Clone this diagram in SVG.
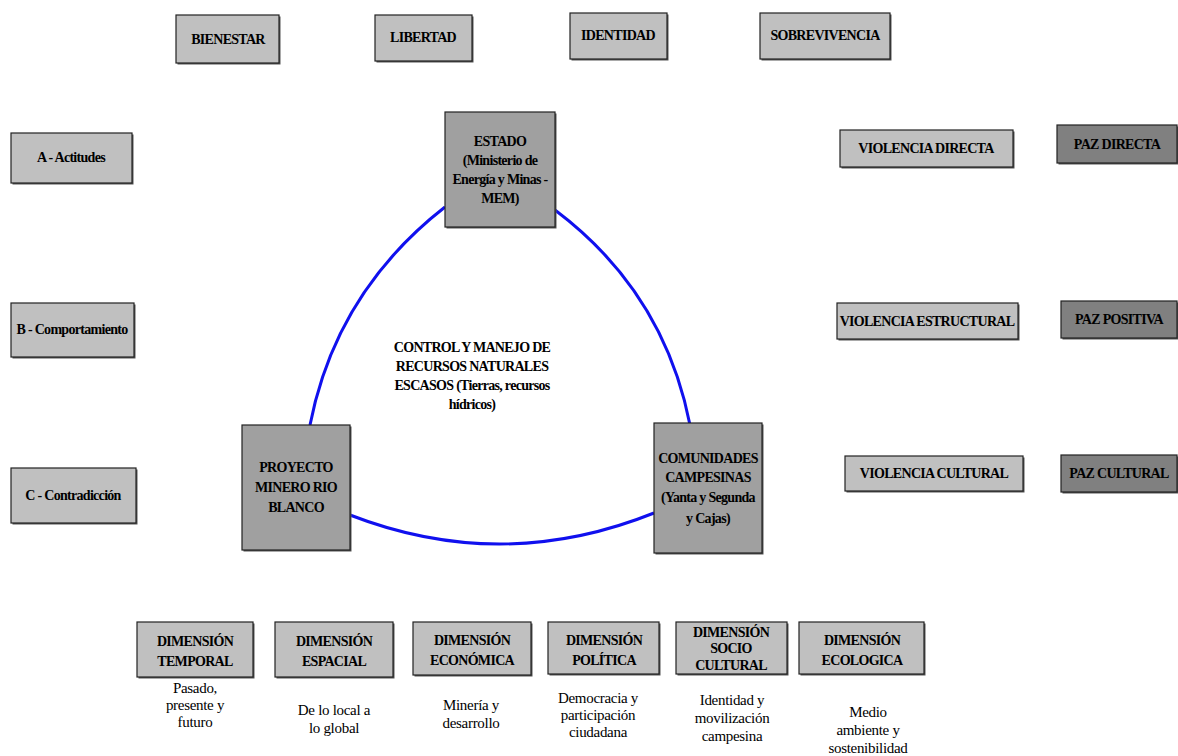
<svg xmlns="http://www.w3.org/2000/svg" width="1178" height="756" viewBox="0 0 1178 756" font-family="'Liberation Serif','Times New Roman',Times,'Nimbus Roman','Noto Serif',FreeSerif,'DejaVu Serif',serif">
<style>
.b{fill:#c0c0c0;stroke:#222;stroke-width:1.2}
.c{fill:#a0a0a0;stroke:#222;stroke-width:1.2}
.p{fill:#808080;stroke:#222;stroke-width:1.2}
.s{fill:#555}
text{font-family:'Liberation Serif','Times New Roman',Times,'Nimbus Roman','Noto Serif',FreeSerif,'DejaVu Serif',serif;fill:#000;text-anchor:middle}
.t{font-size:14px;font-weight:bold;letter-spacing:-0.7px}
.d{font-size:15px;letter-spacing:-0.3px}
.e{fill:none;stroke:#1010ee;stroke-width:3}
</style>
<rect width="1178" height="756" fill="#fff"/>
<g id="connectors">
<path class="e" d="M445,207 Q336,292 310,425"/>
<path class="e" d="M555,210 Q664,292 690,425"/>
<path class="e" d="M350,515 Q502,574 654,513"/>
</g>
<g id="bienestar"><rect class="s" x="177.5" y="16.5" width="103" height="48"/><rect class="b" x="176" y="15" width="103" height="48"/><text class="t" x="228" y="44">BIENESTAR</text></g>
<g id="libertad"><rect class="s" x="376.5" y="16.5" width="97" height="46"/><rect class="b" x="375" y="15" width="97" height="46"/><text class="t" x="423" y="42">LIBERTAD</text></g>
<g id="identidad"><rect class="s" x="571.5" y="14.5" width="97" height="46"/><rect class="b" x="570" y="13" width="97" height="46"/><text class="t" x="618" y="40">IDENTIDAD</text></g>
<g id="sobrevivencia"><rect class="s" x="761.5" y="14.5" width="130" height="46"/><rect class="b" x="760" y="13" width="130" height="46"/><text class="t" x="825" y="40">SOBREVIVENCIA</text></g>
<g id="actitudes"><rect class="s" x="12.5" y="134.5" width="121" height="50"/><rect class="b" x="11" y="133" width="121" height="50"/><text class="t" x="71" y="162">A - Actitudes</text></g>
<g id="comportamiento"><rect class="s" x="12.5" y="304.5" width="123" height="54"/><rect class="b" x="11" y="303" width="123" height="54"/><text class="t" x="72" y="334">B - Comportamiento</text></g>
<g id="contradiccion"><rect class="s" x="12.5" y="469.5" width="125" height="55"/><rect class="b" x="11" y="468" width="125" height="55"/><text class="t" x="73" y="500">C - Contradicción</text></g>
<g id="estado"><rect class="s" x="446.5" y="113.5" width="110" height="115"/><rect class="c" x="445" y="112" width="110" height="115"/><text class="t"><tspan x="500" y="146">ESTADO</tspan><tspan x="500" y="165">(Ministerio de</tspan><tspan x="500" y="184">Energía y Minas -</tspan><tspan x="500" y="203">MEM)</tspan></text></g>
<g id="proyecto"><rect class="s" x="243.5" y="426.5" width="108" height="125"/><rect class="c" x="242" y="425" width="108" height="125"/><text class="t"><tspan x="296" y="472">PROYECTO</tspan><tspan x="296" y="492">MINERO RIO</tspan><tspan x="296" y="512">BLANCO</tspan></text></g>
<g id="comunidades"><rect class="s" x="655.5" y="424.5" width="108" height="130"/><rect class="c" x="654" y="423" width="108" height="130"/><text class="t"><tspan x="708" y="463">COMUNIDADES</tspan><tspan x="708" y="482">CAMPESINAS</tspan><tspan x="708" y="502">(Yanta y Segunda</tspan><tspan x="708" y="523">y Cajas)</tspan></text></g>
<g id="control"><text class="t"><tspan x="472" y="352">CONTROL Y MANEJO DE</tspan><tspan x="472" y="371">RECURSOS NATURALES</tspan><tspan x="472" y="390">ESCASOS (Tierras, recursos</tspan><tspan x="472" y="409">hídricos)</tspan></text></g>
<g id="violencia-directa"><rect class="s" x="841.5" y="131.5" width="173" height="37"/><rect class="b" x="840" y="130" width="173" height="37"/><text class="t" x="926" y="153">VIOLENCIA DIRECTA</text></g>
<g id="paz-directa"><rect class="s" x="1058.5" y="126.5" width="120" height="38"/><rect class="p" x="1057" y="125" width="120" height="38"/><text class="t" x="1117" y="149">PAZ DIRECTA</text></g>
<g id="violencia-estructural"><rect class="s" x="838.5" y="304.5" width="181" height="36"/><rect class="b" x="837" y="303" width="181" height="36"/><text class="t" x="927" y="326">VIOLENCIA ESTRUCTURAL</text></g>
<g id="paz-positiva"><rect class="s" x="1062.5" y="302.5" width="116" height="37"/><rect class="p" x="1061" y="301" width="116" height="37"/><text class="t" x="1119" y="324">PAZ POSITIVA</text></g>
<g id="violencia-cultural"><rect class="s" x="846.5" y="457.5" width="178" height="35"/><rect class="b" x="845" y="456" width="178" height="35"/><text class="t" x="934" y="478">VIOLENCIA CULTURAL</text></g>
<g id="paz-cultural"><rect class="s" x="1062.5" y="456.5" width="116" height="37"/><rect class="p" x="1061" y="455" width="116" height="37"/><text class="t" x="1119" y="478">PAZ CULTURAL</text></g>
<g id="dim-temporal"><rect class="s" x="138.5" y="623.5" width="116" height="55"/><rect class="b" x="137" y="622" width="116" height="55"/><text class="t"><tspan x="195" y="646">DIMENSIÓN</tspan><tspan x="195" y="666">TEMPORAL</tspan></text><text class="d"><tspan x="195" y="693">Pasado,</tspan><tspan x="195" y="710">presente y</tspan><tspan x="195" y="727">futuro</tspan></text></g>
<g id="dim-espacial"><rect class="s" x="276.5" y="623.5" width="118" height="55"/><rect class="b" x="275" y="622" width="118" height="55"/><text class="t"><tspan x="334" y="646">DIMENSIÓN</tspan><tspan x="334" y="666">ESPACIAL</tspan></text><text class="d"><tspan x="334" y="715">De lo local a</tspan><tspan x="334" y="733">lo global</tspan></text></g>
<g id="dim-economica"><rect class="s" x="414.5" y="623.5" width="118" height="53"/><rect class="b" x="413" y="622" width="118" height="53"/><text class="t"><tspan x="472" y="645">DIMENSIÓN</tspan><tspan x="472" y="665">ECONÓMICA</tspan></text><text class="d"><tspan x="471" y="710">Minería y</tspan><tspan x="471" y="728">desarrollo</tspan></text></g>
<g id="dim-politica"><rect class="s" x="549.5" y="623.5" width="111" height="52"/><rect class="b" x="548" y="622" width="111" height="52"/><text class="t"><tspan x="604" y="645">DIMENSIÓN</tspan><tspan x="604" y="665">POLÍTICA</tspan></text><text class="d"><tspan x="598" y="703">Democracia y</tspan><tspan x="598" y="720">participación</tspan><tspan x="598" y="737">ciudadana</tspan></text></g>
<g id="dim-socio-cultural"><rect class="s" x="677.5" y="623.5" width="111" height="52"/><rect class="b" x="676" y="622" width="111" height="52"/><text class="t"><tspan x="731" y="637">DIMENSIÓN</tspan><tspan x="731" y="653">SOCIO</tspan><tspan x="731" y="670">CULTURAL</tspan></text><text class="d"><tspan x="732" y="705">Identidad y</tspan><tspan x="732" y="723">movilización</tspan><tspan x="732" y="741">campesina</tspan></text></g>
<g id="dim-ecologica"><rect class="s" x="800.5" y="623.5" width="125" height="52"/><rect class="b" x="799" y="622" width="125" height="52"/><text class="t"><tspan x="862" y="645">DIMENSIÓN</tspan><tspan x="862" y="665">ECOLOGICA</tspan></text><text class="d"><tspan x="868" y="717">Medio</tspan><tspan x="868" y="735">ambiente y</tspan><tspan x="868" y="753">sostenibilidad</tspan></text></g>
</svg>
